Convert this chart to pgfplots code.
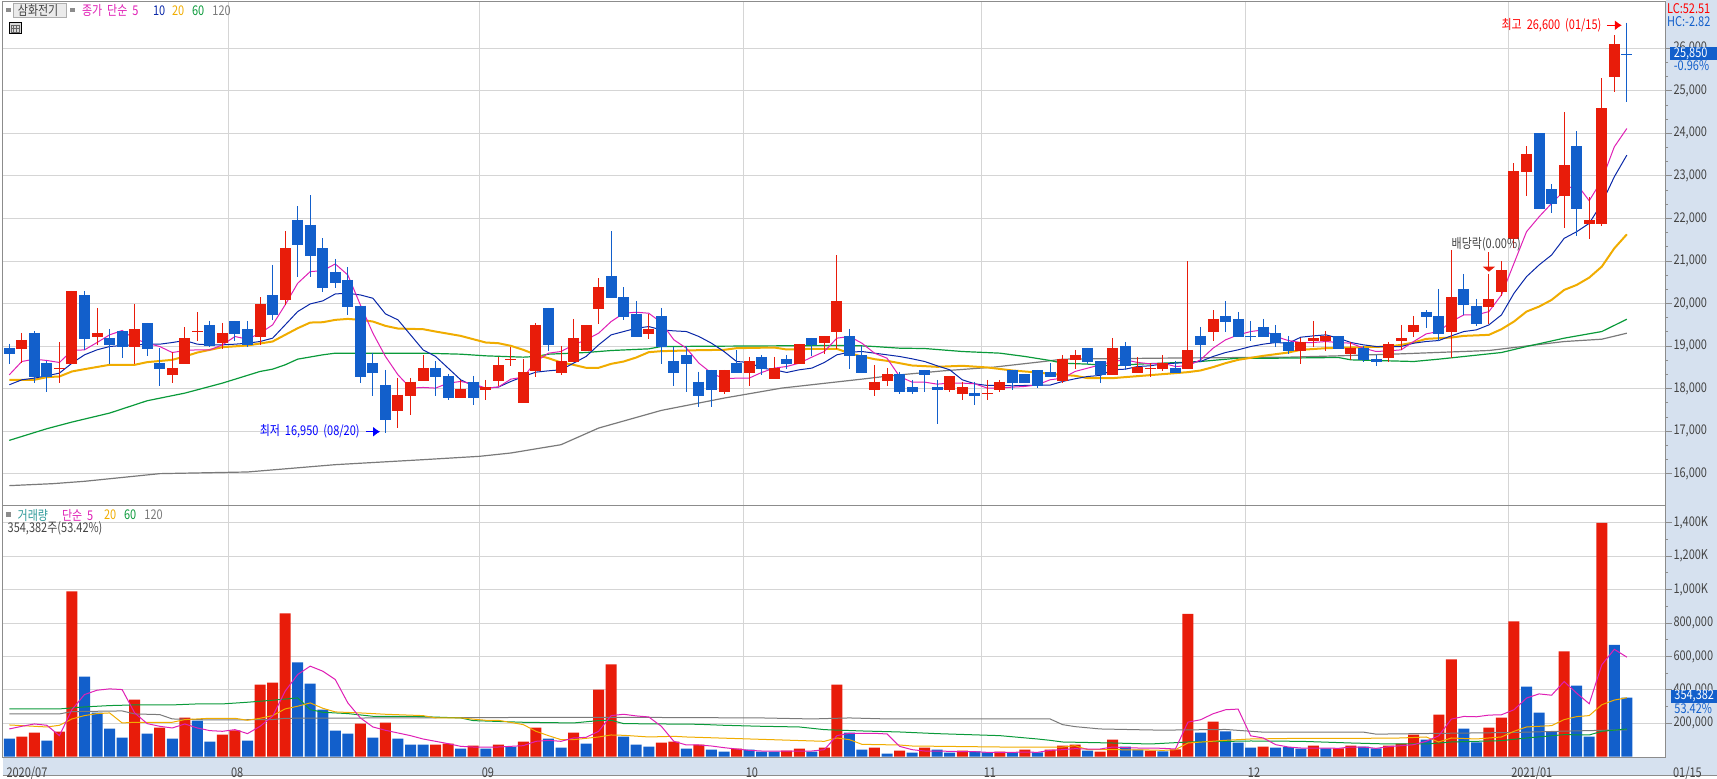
\documentclass[border=0pt]{standalone}
\usepackage{fontspec}
\usepackage{pgfplots}
\usepackage{pgfplotstable}
\pgfplotsset{compat=1.18}
\usetikzlibrary{arrows.meta}
\setmainfont[FakeStretch=0.82,WordSpace=2]{Noto Sans CJK KR}
\newcommand\fs{\fontsize{6.7}{7}\selectfont}

\definecolor{cred}{HTML}{E81C0A}
\definecolor{cblue}{HTML}{125FCB}
\definecolor{cmag}{HTML}{DF20B5}
\definecolor{cnavy}{HTML}{0A28A8}
\definecolor{corange}{HTML}{F0AC00}
\definecolor{cgreen}{HTML}{0A9A3A}
\definecolor{cgray}{HTML}{7A7A7A}
\definecolor{cgrid}{HTML}{D5D5D5}
\definecolor{cax}{HTML}{8C8C8C}
\definecolor{cpanel}{HTML}{D6E1EF}
\definecolor{ctext}{HTML}{444444}
\definecolor{cteal}{HTML}{2E9A9A}

% i high top bottom low
\pgfplotstableread{
i h t b l
1 19313 19150 18940 18615
4 19100 18480 18480 18140
5 20300 20300 18585 18585
7 19900 19313 19220 19030
10 19990 19400 18985 18585
13 18870 18490 18330 18140
14 19450 19195 18585 18585
15 19800 19345 19345 19125
17 19550 19313 19080 18940
20 20155 19990 19220 19030
22 21700 21300 20090 19970
31 18255 17860 17480 17085
32 18255 18165 17835 17390
33 18795 18490 18185 18185
36 18210 18000 17790 17790
38 18210 18045 17975 17740
39 18750 18560 18185 18070
40 18985 18695 18695 18540
41 18700 18400 17670 17670
42 19550 19500 18420 18280
44 19010 18655 18375 18330
45 19640 19195 18630 18630
46 19500 19500 18890 18890
47 20600 20390 19875 19525
51 19760 19405 19290 19170
57 18445 18445 17930 17880
59 18750 18655 18375 18070
61 18750 18490 18235 18235
63 19055 19055 18585 18585
65 19240 19240 19080 18820
66 21140 20065 19335 18935
69 18560 18165 17975 17835
70 18490 18350 18185 18070
75 18305 18305 17975 17930
76 18165 18045 17880 17740
78 18210 17895 17895 17740
79 18210 18165 17975 17930
84 18795 18700 18185 18140
85 18915 18795 18680 18470
88 19195 18960 18330 18330
90 18750 18515 18375 18375
91 18610 18485 18485 18280
92 18795 18610 18470 18420
94 21000 18915 18470 18470
96 19850 19640 19335 19125
103 19195 19100 18890 18585
104 19595 19195 19125 18985
105 19360 19240 19125 18890
107 19100 18960 18820 18680
110 19100 19055 18725 18630
111 19500 19195 19125 18915
112 19710 19500 19335 19220
115 21260 20155 19335 18725
118 20700 20110 19925 19525
119 21000 20790 20275 20180
120 23300 23115 21520 21300
121 23700 23510 23090 22525
124 24500 23255 22525 21775
126 22500 21965 21870 21520
127 25295 24590 21870 21825
128 26300 26090 25320 24965
}\redc
\pgfplotstableread{
i h t b l
0 19055 18960 18820 18585
2 19360 19313 18280 18140
3 18650 18610 18280 17930
6 20300 20200 19170 18915
8 19400 19195 19030 18585
9 19360 19360 18985 18725
11 19550 19550 18940 18775
12 18960 18610 18470 18070
16 19595 19500 19010 18985
18 19595 19595 19290 19125
19 19595 19400 19030 18985
21 20910 20200 19735 19620
23 22290 21965 21380 20625
24 22550 21850 21120 20625
25 21540 21300 20370 20275
26 21050 20745 20485 20370
27 20860 20555 19920 19735
28 19950 19950 18280 18140
29 18845 18610 18375 17835
30 18445 18090 17270 16950
34 18655 18490 18280 17835
35 18350 18305 17790 17740
37 18305 18165 17790 17625
43 19900 19900 19030 18890
48 21705 20650 20135 20135
49 20390 20155 19690 19620
50 20065 19760 19220 19220
52 19900 19710 18985 18585
53 18985 18655 18375 18070
54 19010 18795 18585 17930
55 18400 18165 17835 17575
56 18445 18445 17975 17575
58 18915 18610 18375 18375
60 18795 18750 18470 18330
62 18795 18700 18585 18470
64 19195 19195 19030 18775
67 19405 19240 18775 18470
68 19000 18795 18375 18375
71 18400 18350 17930 17880
72 18210 18045 17930 17880
73 18445 18445 18330 17930
74 18210 18045 17975 17180
77 18165 17905 17835 17625
80 18445 18445 18140 17975
81 18350 18350 18140 18140
82 18445 18445 18070 18020
83 18610 18400 18280 18280
86 18960 18960 18630 18585
87 18655 18655 18330 18140
89 19100 19010 18540 18445
93 18655 18490 18375 18375
95 19455 19240 19030 18640
97 20065 19710 19570 19335
98 19805 19640 19220 19220
99 19595 19235 19235 19125
100 19640 19455 19220 19220
101 19500 19315 19080 18985
102 19240 19100 18890 18820
106 19240 19240 18940 18940
108 19010 18960 18680 18630
109 18795 18700 18630 18540
113 19850 19805 19690 19430
114 20345 19710 19290 19125
116 20700 20345 19970 19735
117 20110 19945 19525 19475
122 24000 24000 22220 22220
123 22810 22690 22340 22130
125 24050 23700 22220 21590
129 26600 25850 25850 24730
}\bluec
% open = close days
\pgfplotstableread{
i c
4 18480
15 19345
40 18695
78 17895
91 18485
}\redd
\pgfplotstableread{
i c
99 19235
129 25850
}\blued

\pgfplotsset{
  chart/.style={
    scale only axis, width=831.6pt,
    xmin=-0.54, xmax=132.1,
    xtick={-0.54,17.5,37.49,58.55,77.53,98.59,119.6,132.1},
    grid=major, grid style={cgrid, line width=.5pt},
    axis line style={cax, line width=.5pt},
    tick align=outside, ytick pos=right, yticklabel pos=right,
    major tick length=3pt, minor tick length=1.2pt,
    xtick style={draw=none},
    ytick style={cax, line width=.5pt},
    minor y tick style={cax, line width=.5pt},
    tick label style={font=\fs, text=ctext, inner sep=0pt},
    yticklabel style={anchor=west, xshift=.7pt},
    clip=true,
  },
  wick/.style={draw=none, mark=none, forget plot,
    error bars/.cd, y dir=both, y explicit, error mark=none,
    error bar style={draw=#1, line width=.5pt}},
  body/.style={draw=none, mark=none, forget plot,
    error bars/.cd, y dir=both, y explicit, error mark=none,
    error bar style={draw=#1, line width=5.5pt}},
  doji/.style={draw=none, mark=none, forget plot,
    error bars/.cd, x dir=both, x fixed=0.44, error mark=none,
    error bar style={draw=#1, line width=.5pt}},
  vol/.style={ybar, bar width=5.5pt, bar shift=0pt, fill=#1, draw=none, forget plot},
}

\begin{document}
\begin{tikzpicture}[x=.5pt,y=.5pt]
\path[use as bounding box] (0,0) rectangle (1717,779);
\begin{scope}[shift={(0,779)},y=-.5pt]
  \fill[cpanel] (1665.7,0) rectangle (1717,776);
  \fill[cpanel] (2.5,757.7) rectangle (1717,776);
  \draw[cax,line width=.5pt] (2.5,776) -- (1717,776);
\end{scope}

\begin{axis}[chart, at={(1.25pt,136.5pt)}, anchor=south west, height=252.35pt,
  ymin=15245, ymax=27104,
  ytick={16000,17000,...,26000}, minor y tick num=2,
  xticklabels={},
  yticklabel style={/pgf/number format/.cd, fixed, 1000 sep={,}, assume math mode=true},
  scaled y ticks=false]

\addplot[cgray, line width=.6pt, forget plot] coordinates {
(0,15723)(3.5,15770)(6,15825)(12,16005)(19,16044)(26,16216)(33,16333)(37.5,16412)(40,16490)
(44,16685)(47,17076)(52,17491)(57,17780)(61.6,18015)(68,18226)(70.5,18312)(74.5,18421)
(78.5,18507)(82.5,18640)(84,18695)(92,18719)(102,18742)(106,18773)(111,18820)(118,18898)
(120,18969)(124,19109)(127,19164)(129,19305)};
\addplot[cgreen, line width=.6pt, forget plot] coordinates {
(0,16787)(3,17061)(5,17217)(8,17428)(11,17718)(14,17897)(17,18132)(20,18406)(21,18460)(22,18562)
(23,18695)(25,18797)(26,18836)(33,18836)(36,18812)(38,18773)(41,18742)(42,18758)(43,18812)
(46,18851)(48,18898)(51,18937)(52,18992)(66,19016)(68,19008)(69,18992)(71,18953)(73,18945)
(76,18875)(79,18836)(81,18758)(83,18664)(84,18601)(86,18578)(88,18539)(90,18578)(94,18625)
(95,18640)(98,18719)(101,18718)(106,18734)(107,18679)(112,18640)(114,18695)(119,18851)
(121,18992)(124,19188)(127,19344)(129,19633)};
\addplot[corange, line width=1pt, forget plot] coordinates {
(0,18210)(2,18210)(3,18273)(4,18288)(5,18406)(6,18460)(8,18562)(10,18562)(11,18625)(13,18679)
(14,18758)(15,18851)(16,18914)(17,18977)(19,19016)(21,19110)(22,19266)(23,19422)(24,19555)
(25,19563)(26,19618)(27,19641)(28,19618)(29,19579)(30,19477)(31,19414)(33,19399)(34,19344)
(36,19242)(37,19164)(38,19086)(39,19070)(40,19008)(41,18914)(42,18797)(43,18718)(44,18617)
(45,18562)(46,18492)(47,18492)(48,18585)(49,18640)(50,18734)(51,18859)(52,18883)(55,18906)
(57,18914)(58,18953)(61,18969)(62,18922)(64,18937)(66,18937)(67,18836)(68,18758)(69,18695)
(70,18656)(71,18601)(72,18546)(74,18515)(76,18539)(78,18500)(80,18429)(82,18382)(83,18350)
(85,18304)(86,18249)(88,18249)(89,18273)(92,18343)(94,18390)(95,18429)(96,18508)(97,18601)
(98,18679)(100,18773)(102,18851)(103,18914)(105,18953)(108,18977)(110,18992)(111,19031)
(112,19086)(113,19172)(115,19203)(116,19242)(118,19266)(119,19399)(120,19579)(121,19813)
(122,19930)(123,20087)(124,20322)(125,20439)(126,20611)(127,20869)(128,21299)(129,21628)};
\addplot[cnavy, line width=.5pt, forget plot] coordinates {
(0,18093)(1,18210)(2,18249)(3,18304)(4,18367)(5,18601)(6,18797)(7,18914)(8,18992)(9,19016)
(10,19031)(11,19047)(12,19047)(13,19086)(14,19133)(15,19047)(16,19031)(17,19031)(18,19047)
(19,19070)(20,19110)(21,19188)(22,19500)(23,19813)(24,19993)(25,20064)(26,20228)(27,20243)
(28,20204)(29,20126)(30,19759)(31,19618)(32,19266)(33,18914)(34,18758)(35,18484)(36,18210)
(37,18069)(38,18015)(39,18038)(40,18171)(41,18288)(42,18390)(43,18421)(44,18445)(45,18601)
(46,18758)(47,19031)(48,19266)(49,19344)(50,19422)(51,19461)(52,19383)(53,19360)(54,19344)
(55,19227)(56,19070)(57,18875)(58,18640)(59,18617)(60,18484)(61,18445)(62,18382)(63,18445)
(64,18484)(65,18617)(66,18797)(67,18859)(68,18875)(69,18836)(70,18797)(71,18758)(72,18703)
(73,18640)(74,18539)(75,18445)(76,18210)(77,18116)(78,18077)(79,18077)(80,18069)(81,18077)
(82,18085)(83,18085)(84,18171)(85,18234)(86,18288)(87,18312)(88,18445)(89,18460)(90,18523)
(91,18539)(92,18585)(93,18601)(94,18617)(95,18640)(96,18758)(97,18851)(98,18914)(99,18992)
(100,19047)(101,19086)(102,19070)(103,19211)(104,19242)(105,19266)(106,19188)(107,19086)
(108,19031)(109,18992)(110,18992)(111,18992)(112,19070)(113,19110)(114,19133)(115,19242)
(116,19344)(117,19383)(118,19500)(119,19735)(120,20243)(121,20634)(122,20908)(123,21143)
(124,21534)(125,21690)(126,21886)(127,22355)(128,22980)(129,23489)};
\addplot[cmag, line width=.5pt, forget plot] coordinates {
(0,18327)(1,18640)(2,18695)(3,18664)(4,18617)(5,18898)(6,18914)(7,19086)(8,19266)(9,19368)
(10,19172)(11,19070)(12,18992)(13,18851)(14,18898)(15,18914)(16,18914)(17,19031)(18,19227)
(19,19164)(20,19305)(21,19500)(22,19970)(23,20478)(24,20752)(25,20775)(26,20932)(27,20673)
(28,19970)(29,19305)(30,18758)(31,18327)(32,18015)(33,18030)(34,18015)(35,18132)(36,18171)
(37,18116)(38,18015)(39,18038)(40,18226)(41,18273)(42,18640)(43,18836)(44,18875)(45,19031)
(46,19149)(47,19305)(48,19579)(49,19774)(50,19798)(51,19774)(52,19555)(53,19149)(54,18953)
(55,18601)(56,18367)(57,18234)(58,18249)(59,18249)(60,18382)(61,18484)(62,18523)(63,18601)
(64,18742)(65,18875)(66,19188)(67,19227)(68,19070)(69,18836)(70,18718)(71,18288)(72,18155)
(73,18155)(74,18108)(75,18132)(76,18132)(77,18116)(78,18015)(79,18015)(80,18038)(81,18054)
(82,18093)(83,18210)(84,18249)(85,18406)(86,18484)(87,18562)(88,18640)(89,18679)(90,18617)
(91,18585)(92,18601)(93,18523)(94,18539)(95,18679)(96,18953)(97,19149)(98,19266)(99,19344)
(100,19383)(101,19227)(102,19133)(103,19086)(104,19086)(105,19110)(106,19086)(107,19070)
(108,18953)(109,18875)(110,18890)(111,18914)(112,19110)(113,19289)(114,19344)(115,19579)
(116,19735)(117,19735)(118,19813)(119,20204)(120,20947)(121,21690)(122,22040)(123,22355)
(124,22650)(125,22810)(126,22417)(127,22900)(128,23684)(129,24114)};

\addplot[wick=cred] table[x=i, y=h, y error plus expr=0, y error minus expr=\thisrow{h}-\thisrow{l}] {\redc};
\addplot[body=cred] table[x=i, y=t, y error plus expr=0, y error minus expr=\thisrow{t}-\thisrow{b}] {\redc};
\addplot[doji=cred] table[x=i, y=c] {\redd};
\addplot[wick=cblue] table[x=i, y=h, y error plus expr=0, y error minus expr=\thisrow{h}-\thisrow{l}] {\bluec};
\addplot[body=cblue] table[x=i, y=t, y error plus expr=0, y error minus expr=\thisrow{t}-\thisrow{b}] {\bluec};
\addplot[doji=cblue] table[x=i, y=c] {\blued};

\node[anchor=east, inner sep=0pt, font=\fs, text=blue] at (axis cs:27.97,16990) {최저 16,950 (08/20)};
\draw[blue, line width=.5pt, -{Latex[length=3.5pt,width=5pt]}] (axis cs:28.43,16990) -- (axis cs:29.57,16990);
\node[anchor=east, inner sep=0pt, font=\fs, text=red] at (axis cs:127,26540) {최고 26,600 (01/15)};
\draw[red, line width=.5pt, -{Latex[length=3.5pt,width=5pt]}] (axis cs:127.4,26540) -- (axis cs:128.6,26540);
\node[anchor=west, inner sep=0pt, font=\fs, text=ctext] at (axis cs:115,21392) {배당락(0.00\%)};
\draw[cred, line width=.5pt, -{Triangle[length=2.5pt,width=6pt]}] (axis cs:118,21210) -- (axis cs:118,20750);
\end{axis}

\begin{axis}[chart, at={(1.25pt,10.65pt)}, anchor=south west, height=125.85pt,
  ymin=-6, ymax=1501,
  ytick={200,400,600,800,1000,1200,1400},
  yticklabels={{200,000},{400,000},{600,000},{800,000},{1,000K},{1,200K},{1,400K}},
  minor y tick num=1,
  xticklabels={\hspace{.8pt}2020/07,08,09,10,11,12,2021/01,\hspace{2.5pt}01/15},
  xticklabel style={anchor=west, yshift=-4.6pt, xshift=1pt}]

\addplot[vol=cred] coordinates {
(1,120)(2,144)(4,150)(5,990)(10,342)(12,174)(14,234)(17,132)(18,158)(20,432)(21,444)(22,858)
(28,198)(30,204)(34,72)(35,78)(37,66)(39,72)(41,90)(42,174)(45,144)(47,402)(48,552)(52,84)
(53,90)(55,72)(58,48)(62,36)(63,48)(65,54)(66,432)(69,54)(71,36)(73,54)(76,36)(79,30)(81,42)
(83,42)(84,66)(85,72)(87,30)(88,102)(91,36)(93,44)(94,855)(96,210)(100,60)(104,66)(106,50)
(107,66)(110,66)(111,78)(112,132)(114,252)(115,582)(118,174)(119,234)(120,810)(124,630)(127,1400)};
\addplot[vol=cblue] coordinates {
(0,108)(3,96)(6,480)(7,264)(8,168)(9,114)(11,138)(13,108)(15,216)(16,90)(19,96)(23,564)(24,438)
(25,282)(26,156)(27,138)(29,114)(31,108)(32,72)(33,72)(36,48)(38,48)(40,58)(43,108)(44,54)
(46,78)(49,120)(50,72)(51,60)(54,48)(56,42)(57,30)(59,42)(60,30)(61,30)(64,30)(67,144)(68,42)
(70,18)(72,24)(74,42)(75,24)(77,32)(78,26)(80,26)(82,26)(86,36)(89,60)(90,42)(92,32)(95,144)
(97,152)(98,84)(99,54)(101,54)(102,58)(103,48)(105,50)(108,60)(109,50)(113,102)(116,168)
(117,86)(121,420)(122,264)(123,150)(125,426)(126,120)(128,670)(129,354.382)};

\addplot[cgray, line width=.5pt, forget plot] coordinates {
(0,256)(4,256)(5,270)(9,274)(10,256)(12,252)(13,226)(16,220)(21,222)(22,230)(45,236)(48,236)
(60,232)(64,226)(67,232)(70,226)(83,226)(84,192)(85,180)(87,166)(91,160)(92,159)(97,163)
(100,147)(108,147)(109,135)(120,145)(124,153)(129,161)};
\addplot[cgreen, line width=.5pt, forget plot] coordinates {
(0,286)(4,286)(6,298)(8,306)(10,310)(13,310)(15,316)(17,316)(19,326)(21,338)(23,352)(24,282)
(25,266)(27,258)(29,242)(32,242)(36,232)(37,216)(41,206)(45,202)(47,216)(48,218)(49,198)
(55,194)(57,188)(60,182)(63,178)(65,162)(68,154)(71,148)(74,138)(79,126)(82,106)(83,98)
(84,88)(88,82)(91,76)(94,88)(99,94)(103,92)(107,82)(110,76)(113,76)(115,88)(119,96)(121,112)
(124,132)(126,130)(127,152)(129,166)};
\addplot[corange, line width=.5pt, forget plot] coordinates {
(0,190)(2,182)(3,178)(4,188)(5,226)(6,246)(7,258)(8,262)(9,202)(10,206)(13,206)(14,222)(16,230)
(18,230)(19,218)(20,230)(21,246)(22,286)(23,302)(24,322)(25,290)(26,268)(28,262)(30,254)(33,246)
(34,232)(36,232)(38,218)(39,218)(41,192)(42,152)(43,126)(44,102)(45,102)(47,118)(48,130)(49,128)
(51,118)(53,122)(54,118)(65,92)(66,112)(67,102)(68,74)(71,70)(72,64)(79,58)(84,58)(85,66)(86,42)
(88,42)(91,40)(92,38)(93,42)(94,82)(97,98)(99,106)(103,110)(108,110)(111,112)(113,118)(114,88)
(115,112)(117,106)(119,118)(120,152)(121,178)(123,186)(124,222)(125,240)(126,246)(127,311)
(128,339)(129,353)};
\addplot[cmag, line width=.5pt, forget plot] coordinates {
(0,166)(1,182)(2,196)(3,188)(4,126)(5,282)(6,372)(7,398)(8,406)(9,402)(10,262)(11,198)(12,182)
(13,172)(14,196)(15,172)(16,156)(17,152)(18,162)(19,138)(20,182)(21,242)(22,392)(23,492)(24,542)
(25,512)(26,462)(27,322)(28,232)(29,178)(30,158)(31,142)(32,126)(33,106)(34,92)(35,78)(36,62)
(37,58)(38,58)(39,58)(40,62)(41,66)(42,92)(43,98)(44,92)(45,112)(46,116)(47,152)(48,246)(49,254)
(50,244)(51,238)(52,182)(53,92)(54,70)(55,70)(56,64)(57,54)(58,46)(59,38)(60,34)(61,34)(62,34)
(63,34)(64,34)(65,42)(66,126)(67,140)(68,140)(69,140)(70,136)(71,62)(72,42)(73,34)(74,34)(75,32)
(76,30)(77,30)(78,26)(79,26)(80,26)(81,28)(82,26)(83,38)(84,42)(85,48)(86,46)(87,46)(88,58)(89,54)
(90,52)(91,52)(92,50)(93,46)(94,207)(95,221)(96,257)(97,281)(98,285)(99,125)(100,112)(101,72)
(102,58)(103,52)(104,52)(105,52)(106,50)(107,58)(108,58)(109,50)(110,60)(111,66)(112,72)(113,92)
(114,125)(115,225)(116,241)(117,239)(118,249)(119,251)(120,281)(121,351)(122,376)(123,368)
(124,450)(125,380)(126,317)(127,550)(128,643)(129,596)};
\end{axis}

\begin{scope}[shift={(0,779)},y=-.5pt, every node/.style={inner sep=0pt, font=\fs, anchor=west}]
  % top legend
  \fill[cax] (6.3,7.8) rectangle (11,12.5);
  \draw[cax!70, fill=black!8, line width=.5pt] (13.3,3.3) rectangle (66.7,17.3);
  \node[text=ctext] at (17.5,10.3) {삼화전기};
  \fill[cax] (70,7.8) rectangle (74.7,12.5);
  \node[text=cmag] at (81.7,10.3) {종가 단순 5};
  \node[text=cnavy] at (152.7,10.3) {10};
  \node[text=corange] at (171.7,10.3) {20};
  \node[text=cgreen] at (191.7,10.3) {60};
  \node[text=cgray] at (212,10.3) {120};
  % table button
  \draw[black, line width=.5pt, fill=black!15] (9,22.3) rectangle (21,34);
  \draw[black!60, line width=.4pt] (11,25) rectangle (19,32) (13.7,25) -- (13.7,32) (16.3,25) -- (16.3,32) (11,28.5) -- (19,28.5);
  % right side
  \node[text=red] at (1666.7,9) {LC:52.51};
  \node[text=cblue] at (1666.7,21.3) {HC:-2.82};
  \fill[cblue] (1670,47) rectangle (1717,60);
  \node[text=white] at (1673.5,53.5) {25,850};
  \node[text=cblue] at (1673.5,65.3) {-0.96\%};
  % volume legend
  \fill[cax] (6.3,512.5) rectangle (11,517.3);
  \node[text=cteal] at (17.3,515) {거래량};
  \node[text=cmag] at (61.7,515) {단순 5};
  \node[text=corange] at (103.7,515) {20};
  \node[text=cgreen] at (123.7,515) {60};
  \node[text=cgray] at (144,515) {120};
  \node[text=ctext] at (7.3,528.7) {354,382주(53.42\%)};
  \fill[cblue] (1670.5,690) rectangle (1717,702.7);
  \node[text=white] at (1674,696.3) {354,382};
  \node[text=cblue] at (1674,708.3) {53.42\%};
\end{scope}
\end{tikzpicture}
\end{document}
